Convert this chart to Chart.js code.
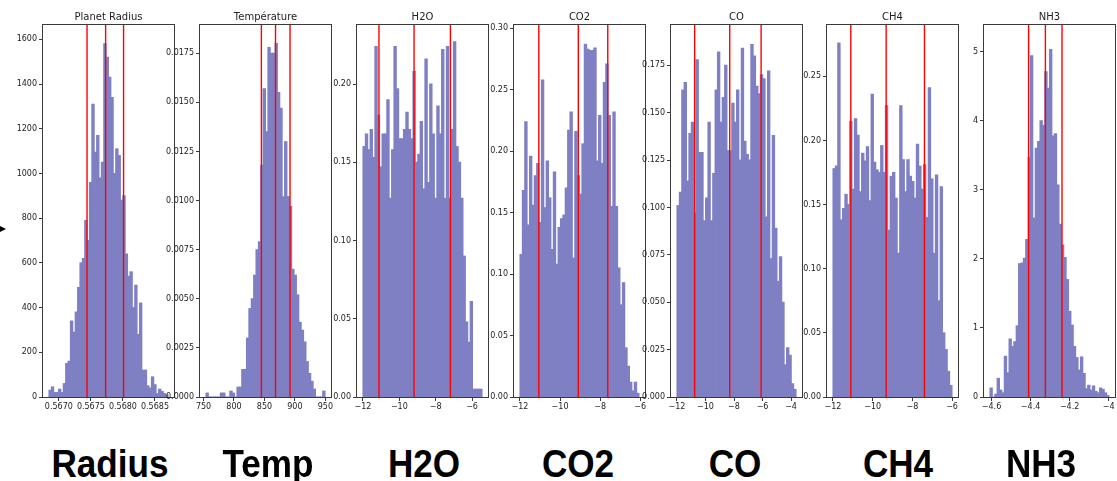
<!DOCTYPE html>
<html>
<head>
<meta charset="utf-8">
<script src="https://cdn.jsdelivr.net/npm/chart.js@4.4.1/dist/chart.umd.min.js"></script>
<style>
    body { margin: 0; background: #fff; width: 1117px; height: 481px; overflow: hidden; position: relative; }
    canvas.panel { position: absolute; top: 0; }
    .big-label {
        position: absolute; top: 442px; line-height: 39px;
        font: bold 39px "Liberation Sans", Arial, sans-serif; color: #000;
        transform: translateX(-50%) scaleX(0.9); white-space: nowrap;
    }
    .arrow {
        position: absolute; left: 0; top: 226px; width: 0; height: 0;
        border-left: 6px solid #000; border-top: 3px solid transparent; border-bottom: 3px solid transparent;
    }
</style>
</head>
<body>
<div class="arrow"></div>
<script>
// ---- data (50 bins per panel) ----
const radiusRange = [0.566846, 0.568704];
const radiusCounts = [30, 45, 20, 20, 35, 20, 60, 150, 160, 340,
    290, 380, 490, 600, 620, 790, 700, 960, 1310, 1095,
    1170, 980, 1050, 1580, 1520, 1430, 1340, 1000, 1110, 1080,
    880, 900, 640, 540, 560, 400, 500, 280, 420, 120,
    120, 50, 40, 90, 55, 15, 35, 25, 15, 10];
const radiusLines = [0.56744, 0.56773, 0.56801];
const radiusXTicks = [0.5670, 0.5675, 0.5680, 0.5685];
const radiusYTicks = [0, 200, 400, 600, 800, 1000, 1200, 1400, 1600];

const tempRange = [754, 949.5];
const tempCounts = [0.0002, 0, 0, 0, 0, 0, 0.0002, 0.0002, 0, 0,
    0.0003, 0.0002, 0, 0.0005, 0.0005, 0.0014, 0.0014, 0.0030, 0.0045, 0.0050,
    0.0062, 0.0075, 0.0079, 0.0118, 0.0157, 0.0135, 0.0178, 0.0175, 0.0175, 0.0180,
    0.0155, 0.0147, 0.0102, 0.0130, 0.0102, 0.0097, 0.0065, 0.0062, 0.0052, 0.0038,
    0.0034, 0.0028, 0.0018, 0.0012, 0.0008, 0.0004, 0, 0, 0, 0.0003];
const tempLines = [845, 868.2, 892];
const tempXTicks = [750, 800, 850, 900, 950];
const tempYTicks = [0, 0.0025, 0.005, 0.0075, 0.01, 0.0125, 0.015, 0.0175];

const h2oRange = [-12, -5.45];
const h2oCounts = [0.160, 0.168, 0.158, 0.171, 0.153, 0.224, 0.180, 0.147, 0.168, 0.168,
    0.190, 0.127, 0.158, 0.224, 0.197, 0.165, 0.165, 0.171, 0.182, 0.171,
    0.165, 0.208, 0.150, 0.155, 0.176, 0.133, 0.216, 0.137, 0.200, 0.168,
    0.127, 0.186, 0.168, 0.222, 0.127, 0.224, 0.127, 0.171, 0.227, 0.160,
    0.150, 0.127, 0.090, 0.048, 0.035, 0.061, 0.005, 0.005, 0.005, 0.005];
const h2oLines = [-11.12, -9.19, -7.19];
const h2oXTicks = [-12, -10, -8, -6];
const h2oYTicks = [0, 0.05, 0.10, 0.15, 0.20];

const co2Range = [-12, -6.06];
const co2Counts = [0.116, 0.168, 0.224, 0.140, 0.196, 0.156, 0.180, 0.190, 0.142, 0.258,
    0.154, 0.192, 0.162, 0.120, 0.183, 0.108, 0.138, 0.145, 0.148, 0.170,
    0.217, 0.232, 0.113, 0.216, 0.180, 0.165, 0.206, 0.287, 0.283, 0.282,
    0.282, 0.284, 0.192, 0.229, 0.190, 0.256, 0.271, 0.229, 0.155, 0.232,
    0.155, 0.105, 0.075, 0.093, 0.040, 0.025, 0.012, 0.005, 0.012, 0.003];
const co2Lines = [-11.06, -9.09, -7.62];
const co2XTicks = [-12, -10, -8, -6];
const co2YTicks = [0, 0.05, 0.10, 0.15, 0.20, 0.25, 0.30];

const coRange = [-12, -3.65];
const coCounts = [0.101, 0.108, 0.162, 0.166, 0.114, 0.139, 0.145, 0.097, 0.178, 0.129,
    0.129, 0.093, 0.105, 0.145, 0.093, 0.118, 0.162, 0.182, 0.145, 0.158,
    0.175, 0.130, 0.130, 0.155, 0.145, 0.162, 0.125, 0.184, 0.135, 0.128,
    0.125, 0.186, 0.180, 0.164, 0.160, 0.170, 0.168, 0.095, 0.172, 0.073,
    0.138, 0.089, 0.061, 0.074, 0.050, 0.017, 0.026, 0.022, 0.007, 0.004];
const coLines = [-10.76, -8.30, -6.10];
const coXTicks = [-12, -10, -8, -6, -4];
const coYTicks = [0, 0.025, 0.05, 0.075, 0.10, 0.125, 0.15, 0.175];

const ch4Range = [-12, -6.0];
const ch4Counts = [0.178, 0.180, 0.276, 0.138, 0.147, 0.158, 0.150, 0.215, 0.162, 0.217,
    0.204, 0.160, 0.190, 0.184, 0.195, 0.153, 0.236, 0.183, 0.177, 0.175,
    0.196, 0.175, 0.227, 0.130, 0.172, 0.175, 0.155, 0.112, 0.227, 0.185,
    0.160, 0.185, 0.172, 0.168, 0.155, 0.197, 0.180, 0.162, 0.181, 0.140,
    0.241, 0.170, 0.112, 0.173, 0.075, 0.164, 0.050, 0.037, 0.020, 0.009];
const ch4Lines = [-11.10, -9.32, -7.39];
const ch4XTicks = [-12, -10, -8, -6];
const ch4YTicks = [0, 0.05, 0.10, 0.15, 0.20, 0.25];

const nh3Range = [-4.608, -3.998];
const nh3Counts = [0.13, 0, 0.04, 0.27, 0.10, 0.06, 0.59, 0.35, 0.84, 0.73,
    0.80, 1.03, 1.93, 1.94, 2.01, 2.28, 3.47, 4.94, 2.59, 3.60,
    3.70, 4.00, 3.93, 4.71, 4.47, 5.03, 3.78, 3.81, 3.07, 2.50,
    2.20, 2.02, 1.70, 1.24, 1.04, 0.73, 0.57, 0.39, 0.58, 0.34,
    0.12, 0.17, 0.10, 0.16, 0.08, 0.06, 0.13, 0.11, 0.06, 0.02];
const nh3Lines = [-4.410, -4.324, -4.239];
const nh3XTicks = [-4.6, -4.4, -4.2, -4.0];
const nh3YTicks = [0, 1, 2, 3, 4, 5];

const titles = ['Planet Radius', 'Température', 'H2O', 'CO2', 'CO', 'CH4', 'NH3'];
const bigLabels = ['Radius', 'Temp', 'H2O', 'CO2', 'CO', 'CH4', 'NH3'];

// ---- layout / style ----
const BAR_COLOR = '#7f7fc3';
const LINE_COLOR = '#ff0000';
const AXIS_COLOR = '#3a3a3a';
const TEXT_COLOR = '#222';
const PLOT_WIDTH = 131;
const Y_AXIS_WIDTH = 42;
const X_AXIS_HEIGHT = 23;
const CANVAS_HEIGHT = 420;
const panelLefts = [43, 200, 357, 514, 671, 827, 984];
const labelCenters = [110, 268, 424, 578, 735, 898, 1041];

const panels = [
    { range: radiusRange, counts: radiusCounts, lines: radiusLines, xTicks: radiusXTicks, xDec: 4, yTicks: radiusYTicks, yDec: 0, yMax: 1664 },
    { range: tempRange, counts: tempCounts, lines: tempLines, xTicks: tempXTicks, xDec: 0, yTicks: tempYTicks, yDec: 4, yMax: 0.01894 },
    { range: h2oRange, counts: h2oCounts, lines: h2oLines, xTicks: h2oXTicks, xDec: 0, yTicks: h2oYTicks, yDec: 2, yMax: 0.2377 },
    { range: co2Range, counts: co2Counts, lines: co2Lines, xTicks: co2XTicks, xDec: 0, yTicks: co2YTicks, yDec: 2, yMax: 0.3027 },
    { range: coRange, counts: coCounts, lines: coLines, xTicks: coXTicks, xDec: 0, yTicks: coYTicks, yDec: 3, yMax: 0.1963 },
    { range: ch4Range, counts: ch4Counts, lines: ch4Lines, xTicks: ch4XTicks, xDec: 0, yTicks: ch4YTicks, yDec: 2, yMax: 0.2900 },
    { range: nh3Range, counts: nh3Counts, lines: nh3Lines, xTicks: nh3XTicks, xDec: 1, yTicks: nh3YTicks, yDec: 0, yMax: 5.386 }
];

function formatTick(value, decimals) {
    let s = Math.abs(value).toFixed(decimals);
    if (decimals === 1 && s.endsWith('.0')) s = s.slice(0, -2);
    return value < 0 ? '\u2212' + s : s;
}

const framePlugin = {
    id: 'frame',
    afterDatasetsDraw(chart) {
        const { ctx, chartArea: a } = chart;
        ctx.save();
        ctx.strokeStyle = AXIS_COLOR;
        ctx.lineWidth = 1;
        ctx.strokeRect(Math.round(a.left) - 0.5, Math.round(a.top) - 0.5,
            Math.round(a.right) - Math.round(a.left) + 1, Math.round(a.bottom) - Math.round(a.top) + 1);
        ctx.restore();
    }
};

const tickFont = { family: '"DejaVu Sans", sans-serif', size: 8 };

function createHistogram(panel, index) {
    const canvas = document.createElement('canvas');
    canvas.className = 'panel';
    canvas.width = PLOT_WIDTH + 2 * Y_AXIS_WIDTH;
    canvas.height = CANVAS_HEIGHT;
    canvas.style.left = (panelLefts[index] - Y_AXIS_WIDTH) + 'px';
    document.body.appendChild(canvas);

    const [lo, hi] = panel.range;
    const binWidth = (hi - lo) / panel.counts.length;
    const margin = (hi - lo) * 0.05;

    const datasets = panel.lines.map(v => ({
        type: 'line',
        data: [{ x: v, y: 0 }, { x: v, y: panel.yMax }],
        borderColor: LINE_COLOR,
        borderWidth: 1.4,
        pointRadius: 0,
        order: 0
    }));
    datasets.push({
        type: 'bar',
        data: panel.counts.map((c, i) => ({ x: lo + (i + 0.5) * binWidth, y: c })),
        backgroundColor: BAR_COLOR,
        borderWidth: 0,
        barPercentage: 1,
        categoryPercentage: 1,
        inflateAmount: 0.5,
        order: 1
    });

    new Chart(canvas, {
        type: 'bar',
        data: { datasets },
        options: {
            responsive: false,
            animation: false,
            devicePixelRatio: 1,
            layout: { padding: 0 },
            plugins: {
                legend: { display: false },
                tooltip: { enabled: false },
                title: {
                    display: true,
                    text: titles[index],
                    color: '#222',
                    font: { family: '"DejaVu Sans", sans-serif', size: 10, weight: 'normal', lineHeight: 1.2 },
                    padding: { top: 11, bottom: 2 }
                }
            },
            scales: {
                x: {
                    type: 'linear',
                    min: lo - margin,
                    max: hi + margin,
                    offset: false,
                    grid: { display: true, drawOnChartArea: false, drawTicks: true, tickLength: 4, color: AXIS_COLOR, offset: false },
                    border: { display: false },
                    ticks: { font: tickFont, color: TEXT_COLOR, padding: 1, maxRotation: 0, autoSkip: false,
                        callback: v => formatTick(v, panel.xDec) },
                    afterBuildTicks: s => { s.ticks = panel.xTicks.map(v => ({ value: v })); },
                    afterFit: s => { s.height = X_AXIS_HEIGHT; }
                },
                y: {
                    type: 'linear',
                    min: 0,
                    max: panel.yMax,
                    grid: { display: true, drawOnChartArea: false, drawTicks: true, tickLength: 4, color: AXIS_COLOR },
                    border: { display: false },
                    ticks: { font: tickFont, color: TEXT_COLOR, padding: 2, autoSkip: false,
                        callback: v => formatTick(v, panel.yDec) },
                    afterBuildTicks: s => { s.ticks = panel.yTicks.map(v => ({ value: v })); },
                    afterFit: s => { s.width = Y_AXIS_WIDTH; }
                },
                // empty right-hand axis so the title centres over the plot box
                spacer: {
                    type: 'linear',
                    position: 'right',
                    display: true,
                    grid: { display: false },
                    border: { display: false },
                    ticks: { display: false },
                    afterFit: s => { s.width = Y_AXIS_WIDTH; }
                }
            }
        },
        plugins: [framePlugin]
    });

    const label = document.createElement('div');
    label.className = 'big-label';
    label.style.left = labelCenters[index] + 'px';
    label.textContent = bigLabels[index];
    document.body.appendChild(label);
}

panels.forEach(createHistogram);
</script>
</body>
</html>
